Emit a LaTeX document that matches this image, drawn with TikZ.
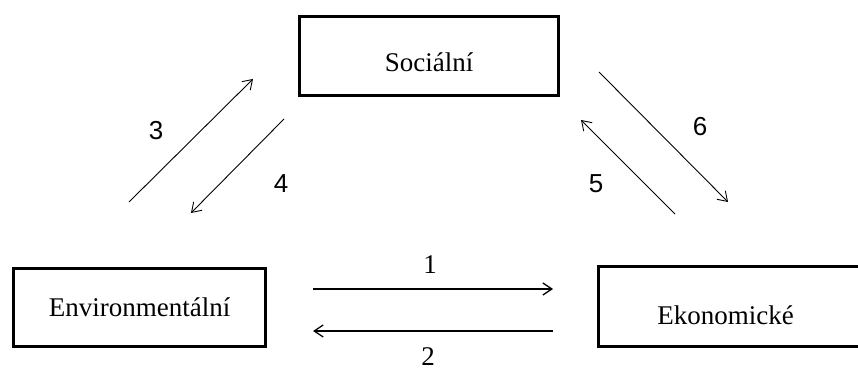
\documentclass[tikz,border=0pt]{standalone}
\usepackage{fontspec}
\setmainfont{Liberation Serif}
\newfontfamily\numfont{Liberation Sans}
\usetikzlibrary{arrows.meta,positioning}

\begin{document}
\begin{tikzpicture}[x=1pt,y=1pt,on grid,
    >={Straight Barb[length=9pt,width=12pt]},
    box/.style={draw,line width=2.6pt,font=\fontsize{27}{30}\selectfont},
    flow/.style={->,line width=1.3pt},
    slant/.style={->,line width=0.9pt},
    num/.style={font=\fontsize{27}{30}\selectfont},
    snum/.style={font=\numfont\fontsize{26}{30}\selectfont}]
   \useasboundingbox (0,0) rectangle (858,372);

   \node[box,minimum width=259pt,minimum height=79pt,text height=32pt] (soc) at (429,316) {Sociální};
   \node[box,minimum width=252pt,minimum height=78pt] (env) [below left=251.5pt and 289.5pt of soc] {Environmentální};
   \node[box,minimum width=272pt,minimum height=80pt,text height=37pt] (eko) [below right=250.5pt and 305.5pt of soc] {Ekonomické\hspace*{18pt}};

   % ends of the arrows
   \coordinate (a1s) at (313,83);  \coordinate (a1e) at (553,83);
   \coordinate (a2s) at (553,41);  \coordinate (a2e) at (313,41);
   \coordinate (a3s) at (129,170); \coordinate (a3e) at (253,293);
   \coordinate (a4s) at (284,253); \coordinate (a4e) at (191,159);
   \coordinate (a5s) at (675,158); \coordinate (a5e) at (581,252);
   \coordinate (a6s) at (599,300); \coordinate (a6e) at (728,170);

   \draw[flow] (a1s) -- (a1e);
   \draw[flow] (a2s) -- (a2e);
   \draw[slant] (a3s) -- (a3e);
   \draw[slant] (a4s) -- (a4e);
   \draw[slant] (a5s) -- (a5e);
   \draw[slant] (a6s) -- (a6e);

   \node[num] (n1) at (430,107) {1};
   \node[num] (n2) at (428,15) {2};
   \node[snum] (n3) at (156,241) {3};
   \node[snum] (n4) at (281,188) {4};
   \node[snum] (n5) at (596,188) {5};
   \node[snum] (n6) at (700,245) {6};
\end{tikzpicture}
\end{document}
